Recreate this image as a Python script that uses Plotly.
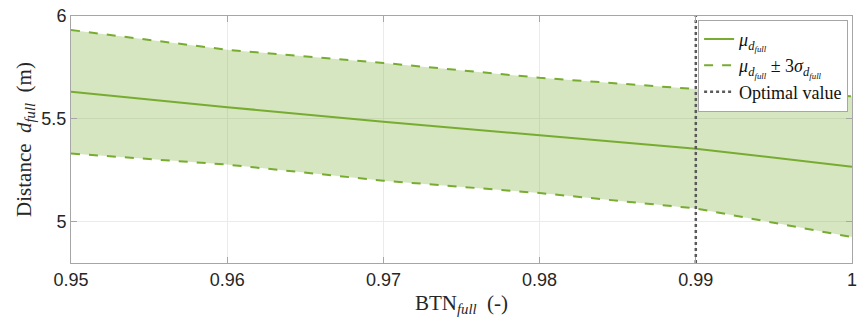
import plotly.graph_objects as go

# BTN_full sweep and resulting full-distance statistics (m)
btn_full = [0.95, 0.96, 0.97, 0.98, 0.99, 1.00]
mu_d_full = [5.632, 5.557, 5.486, 5.420, 5.355, 5.268]
upper_3sigma = [5.932, 5.836, 5.772, 5.700, 5.645, 5.610]
lower_3sigma = [5.332, 5.278, 5.200, 5.140, 5.065, 4.926]
optimal_btn = 0.99
y_range = [4.8, 6.0]

x_ticks = [0.95, 0.96, 0.97, 0.98, 0.99, 1.0]
x_ticktext = ["0.95", "0.96", "0.97", "0.98", "0.99", "1"]
y_ticks = [5, 5.5, 6]
y_ticktext = ["5", "5.5", "6"]

green = "#77AC30"
band_fill = "rgba(119,172,48,0.30)"
serif = "Liberation Serif"
sans = "Liberation Sans"

mu_lbl = "<i>μ</i><sub><i>d</i><sub><i>full</i></sub></sub>"
sig_lbl = "3<i>σ</i><sub><i>d</i><sub><i>full</i></sub></sub>"

fig = go.Figure()

# shaded ±3σ band
fig.add_trace(go.Scatter(
    x=btn_full + btn_full[::-1],
    y=upper_3sigma + lower_3sigma[::-1],
    fill="toself", fillcolor=band_fill,
    line=dict(width=0), mode="lines",
    hoverinfo="skip", showlegend=False,
))

fig.add_trace(go.Scatter(
    x=btn_full, y=mu_d_full, mode="lines",
    line=dict(color=green, width=2),
    name=mu_lbl,
))
fig.add_trace(go.Scatter(
    x=btn_full, y=upper_3sigma, mode="lines",
    line=dict(color=green, width=2, dash="dash"),
    name=f"{mu_lbl} ± {sig_lbl}",
))
fig.add_trace(go.Scatter(
    x=btn_full, y=lower_3sigma, mode="lines",
    line=dict(color=green, width=2, dash="dash"),
    showlegend=False,
))
fig.add_trace(go.Scatter(
    x=[optimal_btn, optimal_btn], y=y_range, mode="lines",
    line=dict(color="#5a5a5a", width=2.5, dash="dot"),
    name="Optimal value",
))

axis_common = dict(
    showline=True, linecolor="#a6a6a6", linewidth=1, mirror="ticks",
    ticks="inside", ticklen=6, tickcolor="#a6a6a6",
    showgrid=True, gridcolor="#ebebeb", gridwidth=1,
    zeroline=False, ticklabeloverflow="allow",
    tickfont=dict(family=sans, size=18, color="#262626"),
)

fig.update_layout(
    width=863, height=327,
    margin=dict(l=71, r=6, t=9, b=64),
    paper_bgcolor="white", plot_bgcolor="white",
    xaxis=dict(
        range=[0.95, 1.0], tickvals=x_ticks, ticktext=x_ticktext,
        title=dict(text="BTN<sub><i>full</i></sub>  (-)",
                   font=dict(family=serif, size=21, color="#262626"), standoff=6),
        **axis_common,
    ),
    yaxis=dict(
        range=y_range, tickvals=y_ticks, ticktext=y_ticktext,
        title=dict(text="Distance  <i>d</i><sub><i>full</i></sub>  (m)",
                   font=dict(family=serif, size=21, color="#262626"), standoff=4),
        **axis_common,
    ),
    legend=dict(
        x=0.995, y=0.985, xanchor="right", yanchor="top",
        bgcolor="white", bordercolor="#a6a6a6", borderwidth=1,
        font=dict(family=serif, size=18, color="#111111"),
        itemwidth=30, tracegroupgap=0,
    ),
    showlegend=True,
)

fig.write_html("out.html")
